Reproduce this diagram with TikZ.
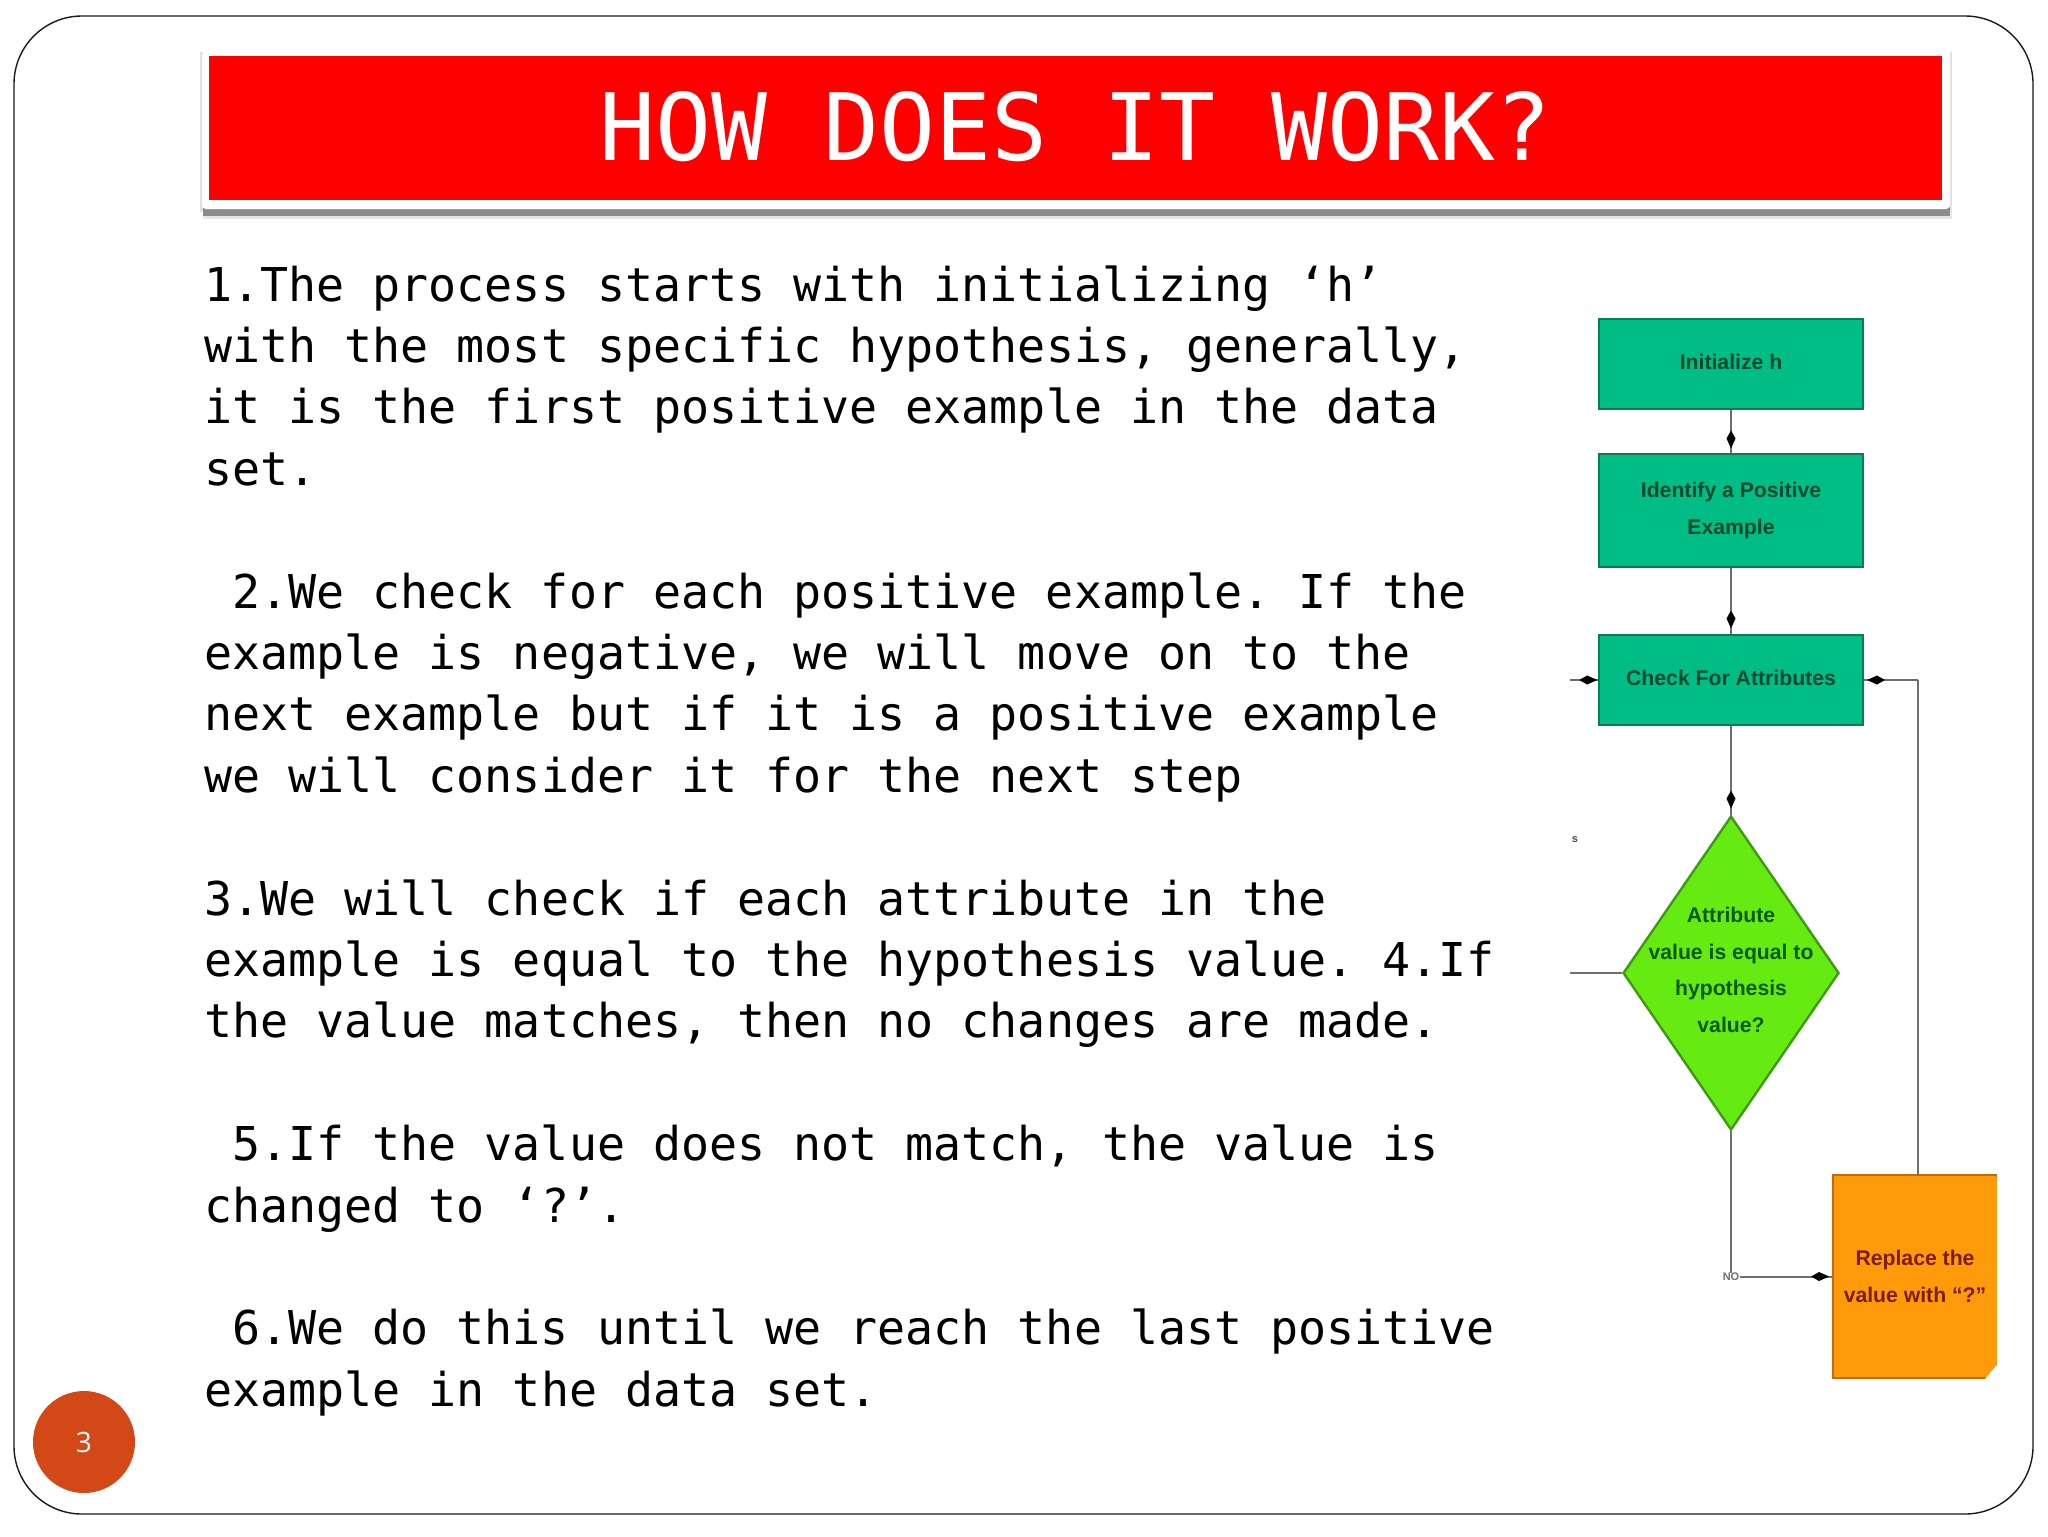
\documentclass[tikz,border=0pt]{standalone}
\usepackage{fontspec}
\usetikzlibrary{shapes.geometric,arrows.meta,decorations.markings,calc}
\newfontfamily\bodyfont{DejaVu Sans Mono}
\newfontfamily\chartfont{Liberation Sans Bold}
\newfontfamily\numfont{Open Sans}
\definecolor{framec}{HTML}{1A1A1A}
\definecolor{teal}{HTML}{00BD85}
\definecolor{teald}{HTML}{0B7A58}
\definecolor{tealt}{HTML}{04492F}
\definecolor{lime}{HTML}{66EB12}
\definecolor{limed}{HTML}{3F9A12}
\definecolor{limet}{HTML}{0B5A12}
\definecolor{orng}{HTML}{FF9A0A}
\definecolor{orngd}{HTML}{C46A08}
\definecolor{orngt}{HTML}{7A1E05}
\definecolor{badge}{HTML}{D34817}
\definecolor{linec}{HTML}{6E6E6E}
\tikzset{
  x=0.5pt,y=-0.5pt,
  frameline/.style={draw=framec,line width=0.7pt,rounded corners=34pt},
  titlebar/.style={fill=red,text=white,inner sep=0pt,minimum width=866.5pt,minimum height=72pt,
    font=\bodyfont\fontsize{46.5pt}{50pt}\selectfont},
  bodytext/.style={anchor=north west,inner sep=0pt,align=left,text=black,
    font=\bodyfont\frenchspacing\fontsize{23.3pt}{30.7pt}\selectfont},
  flowbox/.style={rectangle,fill=teal,draw=teald,line width=1.3pt,inner sep=0pt,minimum width=132pt,align=center,
    text=tealt,font=\chartfont\fontsize{10.6pt}{18.3pt}\selectfont},
  decision/.style={diamond,fill=lime,draw=limed,line width=1.2pt,inner sep=0pt,minimum width=108pt,minimum height=157pt},
  decisiontext/.style={inner sep=0pt,align=center,text=limet,font=\chartfont\fontsize{10.6pt}{18.3pt}\selectfont},
  replacebox/.style={rectangle,fill=orng,draw=orngd,line width=1.2pt,inner sep=0pt,minimum width=82pt,minimum height=101.5pt,align=center,
    text=orngt,font=\chartfont\fontsize{10.6pt}{18.3pt}\selectfont},
  flowline/.style={draw=linec,line width=1pt},
  tipped/.style={flowline,postaction={decorate},decoration={markings,
    mark=at position #1 with {\arrow[black]{Kite[length=9pt,width=4.5pt,inset=4pt]}}}},
  tinylabel/.style={inner sep=0pt,text=linec,font=\chartfont\fontsize{5.5pt}{6pt}\selectfont},
  pagebadge/.style={circle,fill=badge,minimum size=51pt,inner sep=0pt,text=white,
    font=\numfont\fontsize{14pt}{15pt}\selectfont},
}
\begin{document}
\begin{tikzpicture}
\useasboundingbox (0,0) rectangle (2048,1536);
\fill[white] (0,0) rectangle (2048,1536);
\draw[frameline] (14,16) rectangle (2033,1514);
% title bar with its white edge and shadow
\fill[black!10] (203,212) rectangle (1952,219);
\fill[black!45] (203,207) rectangle (1950,216);
\fill[black!12] (200,52) rectangle (203,212);
\fill[black!12] (1950,52) rectangle (1952,212);
\fill[white,rounded corners=2pt] (202,52) rectangle (1950,209);
\node[titlebar,text depth=0pt] (title) at (1075.5,128) {\raisebox{2pt}{HOW DOES IT WORK?}};
% body text
\node[bodytext] (body) at (204,265) {1.The process starts with initializing ‘h’\\
with the most specific hypothesis, generally,\\
it is the first positive example in the data\\
set.\\[30.7pt]
\hspace*{14pt}2.We check for each positive example. If the\\
example is negative, we will move on to the\\
next example but if it is a positive example\\
we will consider it for the next step\\[30.7pt]
3.We will check if each attribute in the\\
example is equal to the hypothesis value. 4.If\\
the value matches, then no changes are made.\\[30.7pt]
\hspace*{14pt}5.If the value does not match, the value is\\
changed to ‘?’.\\[30.7pt]
\hspace*{14pt}6.We do this until we reach the last positive\\
example in the data set.};
% flowchart
\node[flowbox,minimum height=45pt] (init) at (1731,364) {\raisebox{2pt}{Initialize h}};
\node[flowbox,minimum height=56.5pt] (ident) at (1731,510.5) {Identify a Positive\\Example};
\node[flowbox,minimum height=45pt] (check) at (1731,680) {\raisebox{2pt}{Check For Attributes}};
\node[decision] (dec) at (1731,973) {};
\node[decisiontext] (dectext) at (1731,970) {Attribute\\value is equal to\\hypothesis\\value?};
\node[replacebox] (repl) at (1915,1276.5) {Replace the\\value with “?”};
\fill[orng] (1994,1177) rectangle (1999,1364);
\fill[white] (1997,1174) rectangle (2001,1381);
\fill[white] (1985,1379) -- (1997.5,1379) -- (1997.5,1364) -- cycle;
\coordinate (replout) at (1918,1175.5);
\coordinate (leftin) at (1570,680);
\coordinate (leftout) at (1570,973);
\coordinate (noelbow) at (1731,1276.5);
\draw[tipped=0.9] (init) -- (ident);
\draw[tipped=0.92] (ident) -- (check);
\draw[tipped=0.93] (check) -- (dec.north);
\draw[flowline] (dec.west) -- (leftout);
\draw[flowline] (dec.south) -- (noelbow);
\node[tinylabel,fill=white] (nolabel) at (noelbow) {NO};
\draw[tipped=0.97] (nolabel) -- (repl.west);
\draw[tipped=0.98] (leftin) -- (check.west);
\draw[flowline] (replout) -- (replout |- check);
\draw[tipped=0.95] (replout |- check) -- (check.east);
\node[tinylabel,text=black!70] (clip) at (1575,840) {s};
% page number
\node[pagebadge] (pagenum) at (84,1442) {3};
\end{tikzpicture}
\end{document}
